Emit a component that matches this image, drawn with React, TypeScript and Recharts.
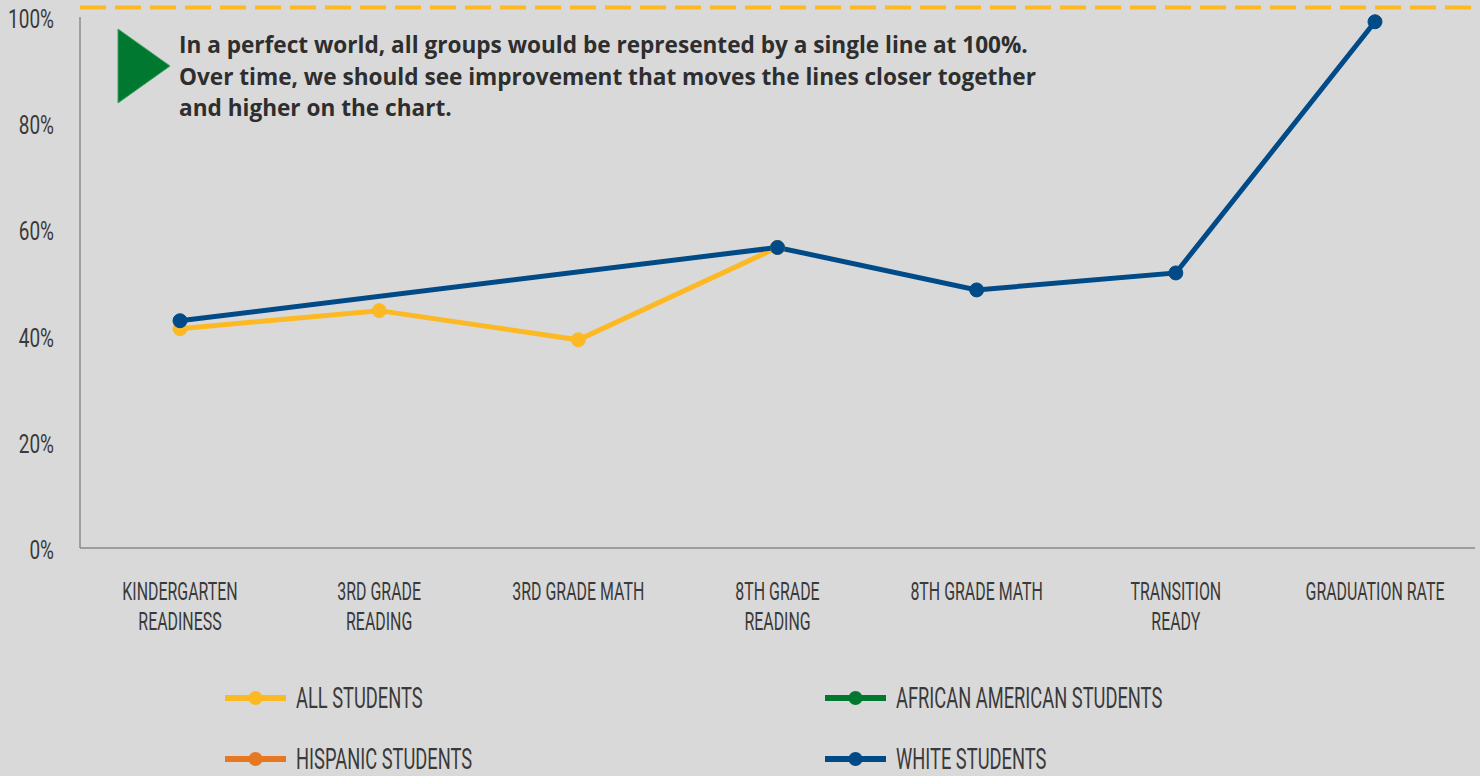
import React from "react";
import { LineChart, Line, XAxis, YAxis, ReferenceLine, Legend } from "recharts";

const categories = [
  "KINDERGARTEN\nREADINESS",
  "3RD GRADE\nREADING",
  "3RD GRADE MATH",
  "8TH GRADE\nREADING",
  "8TH GRADE MATH",
  "TRANSITION\nREADY",
  "GRADUATION RATE",
];
const allStudents: (number | null)[] = [41.3, 44.7, 39.2, 56.6, null, null, null];
const africanAmerican: (number | null)[] = [null, null, null, null, null, null, null];
const hispanic: (number | null)[] = [null, null, null, null, null, null, null];
const white: (number | null)[] = [42.8, null, null, 56.6, 48.6, 51.8, 99.1];
const yTicks = [0, 20, 40, 60, 80, 100];
const targetLine = 101.8;

const seriesNames = ["ALL STUDENTS", "AFRICAN AMERICAN STUDENTS", "HISPANIC STUDENTS", "WHITE STUDENTS"];
const seriesColors = ["#FDB924", "#00782F", "#E87722", "#004A87"];
const note = [
  "In a perfect world, all groups would be represented by a single line at 100%.",
  "Over time, we should see improvement that moves the lines closer together",
  "and higher on the chart.",
];

const data = categories.map((c, i) => ({
  name: c,
  all: allStudents[i],
  aa: africanAmerican[i],
  hisp: hispanic[i],
  white: white[i],
}));

const COND = "Roboto, 'Liberation Sans', sans-serif";
const TXT = "#3a3a3a";

const XTick = (props: any) => {
  const { x, y, payload } = props;
  const lines = String(payload.value).split("\n");
  return (
    <g transform={`translate(${x} ${y}) scale(0.63 1)`}>
      <text x={0} y={0} textAnchor="middle" fill={TXT} fontFamily={COND} fontSize={25.3}>
        {lines.map((l, i) => (
          <tspan key={i} x={0} dy={i === 0 ? 44 : 30}>
            {l}
          </tspan>
        ))}
      </text>
    </g>
  );
};

const YTick = (props: any) => {
  const { x, y, payload } = props;
  return (
    <g transform={`translate(${x} ${y}) scale(0.75 1)`}>
      <text x={0} y={11} textAnchor="end" fill={TXT} fontFamily={COND} fontSize={25.3}>
        {payload.value}%
      </text>
    </g>
  );
};

const LegendContent = (props: any) => {
  const payload = [...(props.payload || [])].sort(
    (a: any, b: any) => seriesNames.indexOf(a.value) - seriesNames.indexOf(b.value)
  );
  const cols = [225, 825];
  return (
    <div style={{ position: "relative", width: 1480, height: 120 }}>
      {payload.map((p: any, i: number) => {
        const col = i % 2;
        const row = Math.floor(i / 2);
        return (
          <div
            key={i}
            style={{
              position: "absolute",
              left: cols[col],
              top: 42 + row * 61 - 20,
              height: 40,
              display: "flex",
              alignItems: "center",
            }}
          >
            <svg width={61} height={20} style={{ marginRight: 10, flex: "none" }}>
              <line x1={0} y1={10} x2={61} y2={10} stroke={p.color} strokeWidth={6} />
              <circle cx={30.5} cy={10} r={7} fill={p.color} />
            </svg>
            <span
              style={{
                fontFamily: COND,
                fontSize: 30,
                lineHeight: "40px",
                color: TXT,
                whiteSpace: "nowrap",
                display: "inline-block",
                transform: "scaleX(0.61)",
                transformOrigin: "left center",
              }}
            >
              {p.value}
            </span>
          </div>
        );
      })}
    </div>
  );
};

export default function App() {
  const keys = ["all", "aa", "hisp", "white"];
  return (
    <div
      style={{
        position: "fixed",
        left: 0,
        top: 0,
        width: 1480,
        height: 776,
        background: "#D9D9D9",
        overflow: "hidden",
      }}
    >
      <LineChart width={1480} height={776} data={data} margin={{ top: 17, right: 5, bottom: 0, left: 0 }}>
        <XAxis
          dataKey="name"
          interval={0}
          padding={{ left: 100, right: 100 }}
          height={108}
          tick={<XTick />}
          tickLine={false}
          axisLine={{ stroke: "#8a8a8a", strokeWidth: 1.5 }}
        />
        <YAxis
          domain={[0, 100]}
          ticks={yTicks}
          width={80}
          tick={<YTick />}
          tickLine={false}
          tickMargin={20}
          axisLine={{ stroke: "#8a8a8a", strokeWidth: 1.5 }}
        />
        <ReferenceLine
          y={targetLine}
          ifOverflow="visible"
          stroke="#FDB924"
          strokeWidth={4}
          strokeDasharray="26 9"
        />
        <Legend verticalAlign="bottom" align="left" height={120} content={<LegendContent />} />
        {keys.map((k, i) => (
          <Line
            key={k}
            dataKey={k}
            name={seriesNames[i]}
            stroke={seriesColors[i]}
            strokeWidth={5}
            connectNulls
            dot={{ r: 7, fill: seriesColors[i], stroke: seriesColors[i], strokeWidth: 1 }}
            activeDot={false}
            isAnimationActive={false}
          />
        ))}
      </LineChart>
      <div style={{ position: "absolute", left: 117, top: 28, pointerEvents: "none" }}>
        <svg width={56} height={78}>
          <polygon points="1,1 53,38 1,75" fill="#00782F" stroke="#3fa060" strokeWidth={1} />
        </svg>
      </div>
      <div
        style={{
          position: "absolute",
          left: 179,
          top: 29,
          fontFamily: "'Open Sans', sans-serif",
          fontWeight: 700,
          fontSize: 22.6,
          lineHeight: "31.5px",
          color: "#2e2e2e",
          whiteSpace: "nowrap",
          pointerEvents: "none",
        }}
      >
        {note.map((l, i) => (
          <div key={i}>{l}</div>
        ))}
      </div>
    </div>
  );
}
